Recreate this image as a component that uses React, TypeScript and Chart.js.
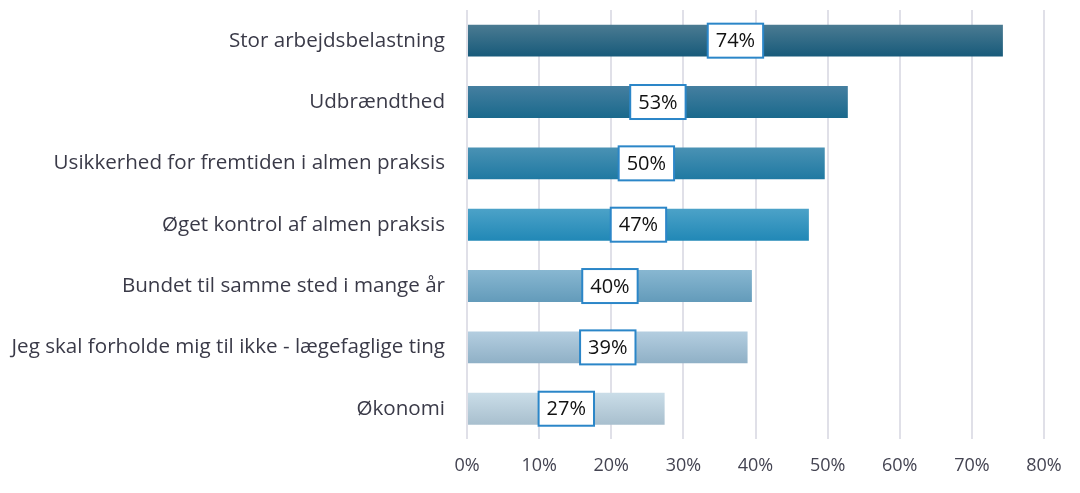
import React, { useEffect, useRef } from "react";
import { Chart, registerables } from "chart.js";

Chart.register(...registerables);

const categories = [
  "Stor arbejdsbelastning",
  "Udbrændthed",
  "Usikkerhed for fremtiden i almen praksis",
  "Øget kontrol af almen praksis",
  "Bundet til samme sted i mange år",
  "Jeg skal forholde mig til ikke - lægefaglige ting",
  "Økonomi",
];
const values = [74.3, 52.8, 49.6, 47.4, 39.5, 38.9, 27.4];
const labels = ["74%", "53%", "50%", "47%", "40%", "39%", "27%"];
const topColors = ["#4b7b92", "#457fa0", "#4a92b4", "#4ca2c8", "#88b7d1", "#b4cee0", "#cadde8"];
const bottomColors = ["#175a7a", "#1a698c", "#1f79a2", "#2188b6", "#639bba", "#8fb0c6", "#a8bfce"];
const xTicks = [0, 10, 20, 30, 40, 50, 60, 70, 80];

const FONT = "'Open Sans', 'Noto Sans', sans-serif";

const labelPlugin = {
  id: "boxLabels",
  afterDatasetsDraw(chart: any) {
    const ctx = chart.ctx;
    const meta = chart.getDatasetMeta(0);
    ctx.save();
    ctx.font = `20px ${FONT}`;
    ctx.textAlign = "center";
    ctx.textBaseline = "middle";
    meta.data.forEach((el: any, i: number) => {
      const cx = (el.base + el.x) / 2;
      const cy = el.y;
      const text = labels[i];
      const w = ctx.measureText(text).width + 16;
      const h = 34;
      ctx.fillStyle = "#ffffff";
      ctx.fillRect(cx - w / 2, cy - h / 2, w, h);
      ctx.strokeStyle = "#2b86c8";
      ctx.lineWidth = 2;
      ctx.strokeRect(cx - w / 2, cy - h / 2, w, h);
      ctx.fillStyle = "#111111";
      ctx.fillText(text, cx, cy + 1);
    });
    ctx.restore();
  },
};

export default function App() {
  const ref = useRef<HTMLCanvasElement | null>(null);
  useEffect(() => {
    if (!ref.current) return;
    const chart = new Chart(ref.current, {
      type: "bar",
      data: {
        labels: categories,
        datasets: [
          {
            data: values,
            backgroundColor: (c: any) => {
              const chart = c.chart;
              const i = c.dataIndex;
              if (!chart.chartArea || i === undefined) return topColors[i ?? 0];
              const y = chart.scales.y.getPixelForValue(i);
              const g = chart.ctx.createLinearGradient(0, y - 16, 0, y + 16);
              g.addColorStop(0, topColors[i]);
              g.addColorStop(1, bottomColors[i]);
              return g;
            },
            borderWidth: 0,
            barPercentage: 0.52,
            categoryPercentage: 1,
          },
        ],
      },
      options: {
        indexAxis: "y",
        animation: false,
        responsive: true,
        maintainAspectRatio: false,
        layout: { padding: { top: 10, right: 36, bottom: 0, left: 0 } },
        plugins: { legend: { display: false }, tooltip: { enabled: false } },
        scales: {
          x: {
            min: 0,
            max: 80,
            afterBuildTicks: (s: any) => {
              s.ticks = xTicks.map((v) => ({ value: v }));
            },
            ticks: {
              callback: (v: any) => `${v}%`,
              color: "#444452",
              font: { family: FONT, size: 18 },
              padding: 16,
            },
            grid: { color: "#e0e0e8", lineWidth: 2, drawTicks: false },
            border: { display: false },
          },
          y: {
            afterFit: (s: any) => {
              s.width = 467;
              s.paddingTop = 0;
              s.paddingBottom = 0;
            },
            ticks: {
              color: "#3a3a48",
              font: { family: FONT, size: 20.6 },
              padding: 14,
            },
            grid: { display: false },
            border: { display: false },
          },
        },
      },
      plugins: [labelPlugin],
    } as any);
    return () => chart.destroy();
  }, []);
  return (
    <div style={{ position: "fixed", left: 0, top: 0, width: 1080, height: 493, background: "#fff" }}>
      <canvas ref={ref} />
    </div>
  );
}
